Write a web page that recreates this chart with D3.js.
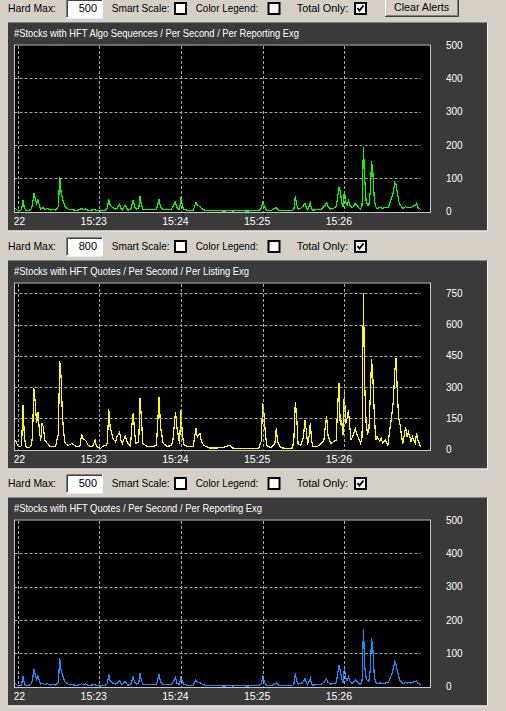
<!DOCTYPE html>
<html><head><meta charset="utf-8">
<script src="https://cdn.jsdelivr.net/npm/d3@7"></script>
<style>
html,body{margin:0;padding:0;background:#d4d0c8;overflow:hidden}
text{font-family:"Liberation Sans",Arial,sans-serif}
</style>
</head><body><svg id="c" width="506" height="711"></svg>
<script>
// seconds after 15:22:00
const seconds = [-2,-1,0,2,3,4,5,6,7,9,10,11,12,13,14,15,16,17,18,19,20,22,24,26,28,30,31,32,33,34,35,37,40,43,46,47,48,50,52,55,57,58,61,63,65,66,67,68,70,72,73,75,76,77,79,81,83,84,85,86,87,89,90,91,92,95,99,102,104,105,107,110,113,114,116,117,119,120,121,122,125,129,131,132,134,135,137,141,146,151,156,158,163,168,173,177,179,180,181,182,183,186,189,190,191,193,197,202,203,204,205,206,208,210,211,212,213,214,215,216,217,220,223,225,226,227,228,230,232,234,235,236,237,238,239,240,241,242,243,244,245,246,248,249,251,252,253,254,255,256,257,258,259,260,261,262,263,264,266,267,268,270,272,273,275,276,277,278,279,280,281,282,283,285,286,287,289,290,292,293,294,296];
const algoReporting = [10,8,4,3,6,35,12,5,4,5,8,20,55,40,25,35,20,8,10,12,6,10,5,7,5,15,103,60,40,25,15,8,6,4,6,10,6,8,4,5,6,3,2,4,5,10,37,20,12,8,10,22,10,6,20,5,6,20,35,15,8,10,47,20,8,6,6,7,37,15,6,6,8,15,29,12,6,45,20,8,4,4,28,20,15,10,5,3,4,2,3,2,4,2,3,3,10,27,20,10,4,3,10,12,6,3,3,3,10,47,20,8,10,18,25,15,6,15,27,6,5,6,8,15,20,27,15,8,10,15,40,73,60,30,15,62,30,20,33,20,15,12,25,20,10,8,20,193,95,30,20,20,60,151,115,35,15,10,12,12,10,12,13,20,45,60,88,80,55,30,20,15,10,15,12,13,12,15,20,25,12,7];
const quotesListing = [46,38,22,14,20,214,70,14,12,12,20,60,294,230,126,182,100,40,126,110,45,30,15,14,16,78,425,349,158,78,30,20,30,15,18,74,54,45,20,14,45,15,6,18,20,35,193,110,54,38,62,83,45,30,66,30,18,120,178,80,30,38,246,150,30,16,15,20,254,110,30,16,20,38,182,110,30,190,78,25,14,14,102,60,78,40,20,8,8,10,22,8,6,6,6,6,40,222,174,78,20,10,30,102,40,10,6,8,60,230,158,30,20,60,142,94,25,60,126,40,14,14,30,46,110,161,70,30,38,46,198,318,117,142,70,278,126,150,190,110,46,62,102,78,46,30,62,754,302,126,78,94,254,434,334,174,46,62,40,58,33,46,22,78,174,238,374,440,250,150,117,62,30,110,62,86,38,62,30,78,46,14];
const quotesReporting = [10,8,4,3,5,32,10,5,4,5,8,18,53,38,22,32,18,8,9,10,6,9,5,6,5,13,85,50,35,22,13,8,6,4,6,9,6,8,4,5,6,3,2,4,5,9,37,18,11,8,10,17,9,6,16,5,6,18,29,13,8,9,41,18,8,6,6,7,37,14,6,6,8,13,27,11,6,33,16,8,4,4,20,15,12,9,5,3,4,2,3,2,4,2,3,3,9,29,18,9,4,3,9,12,6,3,3,3,10,40,18,8,9,15,25,14,6,14,25,6,5,6,8,13,18,23,13,8,9,12,35,65,50,25,12,55,27,18,30,18,12,10,20,16,8,6,18,173,60,25,18,15,50,145,110,30,12,10,11,11,9,11,12,18,40,55,75,65,45,28,18,14,9,13,11,12,11,13,15,17,10,7];

const panelTitles = [
  "#Stocks with HFT Algo Sequences / Per Second / Per Reporting Exg",
  "#Stocks with HFT Quotes / Per Second / Per Listing Exg",
  "#Stocks with HFT Quotes / Per Second / Per Reporting Exg"
];
const titleWidths = [285, 235, 248];
const hardMax = [500, 800, 500];
const yTicks = [[0,100,200,300,400,500],[0,150,300,450,600,750],[0,100,200,300,400,500]];
const timeTicks = [0,60,120,180,240];
const timeTickLabels = ["15:22","15:23","15:24","15:25","15:26"];
const seriesList = [algoReporting, quotesListing, quotesReporting];
const lineColors = ["#00ff00","#ffff00","#1a8cff"];
const panelTops = [22.5, 260.5, 497.5];

const svg = d3.select("#c");
const x = d3.scaleLinear().domain([-2.35, 303.4]).range([14.3, 430.7]);
const tEnd = d3.max(seconds);

function label(g, txt, xx, yy, w, opts={}) {
  const t = g.append("text").attr("x", xx).attr("y", yy).attr("dy", "0.35em")
    .attr("font-size", opts.size || 11).attr("fill", opts.fill || "#000").text(txt);
  if (w) t.attr("textLength", w).attr("lengthAdjust", "spacingAndGlyphs");
  if (opts.anchor) t.attr("text-anchor", opts.anchor);
  return t;
}
function checkbox(g, xx, yy, checked) {
  g.append("rect").attr("x", xx).attr("y", yy).attr("width", 11).attr("height", 11)
    .attr("fill", "#fff").attr("stroke", "#000").attr("stroke-width", 2);
  if (checked) g.append("path")
    .attr("d", `M${xx+2.5},${yy+5} L${xx+4.5},${yy+7.5} L${xx+8.5},${yy+2.5}`)
    .attr("fill", "none").attr("stroke", "#000").attr("stroke-width", 2);
}

panelTops.forEach((P, i) => {
  const g = svg.append("g");
  // controls row
  const cy = P - 14;
  label(g, "Hard Max:", 8, cy, 48);
  g.append("rect").attr("x", 66).attr("y", cy - 9.5).attr("width", 37).attr("height", 19).attr("fill", "#fff");
  g.append("path").attr("d", `M66.5,${cy+9.5} V${cy-9} H103`).attr("fill","none").attr("stroke","#808080");
  g.append("path").attr("d", `M67.5,${cy+8.5} V${cy-8} H102`).attr("fill","none").attr("stroke","#404040");
  g.append("path").attr("d", `M66,${cy+9.5} H102.5 V${cy-9.5}`).attr("fill","none").attr("stroke","#ffffff");
  label(g, String(hardMax[i]), 97, cy, null, {anchor: "end"});
  label(g, "Smart Scale:", 111.7, cy, 58);
  checkbox(g, 175, cy - 5.5, false);
  label(g, "Color Legend:", 195.7, cy, 62.5);
  checkbox(g, 268.5, cy - 5.5, false);
  label(g, "Total Only:", 296.7, cy, 51.6);
  checkbox(g, 355, cy - 5.5, true);
  if (i === 0) {
    g.append("rect").attr("x", 385).attr("y", -3).attr("width", 73).attr("height", 20).attr("fill", "#d4d0c8");
    g.append("path").attr("d", "M385.5,17 V-3").attr("stroke", "#fff");
    g.append("path").attr("d", "M385,16.5 H458.5 V-3").attr("fill","none").attr("stroke", "#404040");
    g.append("path").attr("d", "M386,15.5 H457.5 V-3").attr("fill","none").attr("stroke", "#808080");
    label(g, "Clear Alerts", 394, 7.3, 55);
  }

  // panel
  g.append("rect").attr("x", 8).attr("y", P).attr("width", 480).attr("height", 208).attr("fill", "#3a3a3a");
  g.append("path").attr("d", `M8,${P+208.5} H487.5 V${P}`).attr("fill","none").attr("stroke","#f4f4f4");
  label(g, panelTitles[i], 14, P + 10, titleWidths[i], {fill: "#fff", size: 11.5});

  const top = P + 22.5, bottom = P + 189.2;
  const y = d3.scaleLinear().domain([0, hardMax[i]]).range([bottom, top]);

  g.append("rect").attr("x", 14).attr("y", P + 22).attr("width", 417).attr("height", 168.5).attr("fill", "#000");

  const cid = "clip" + i;
  g.append("clipPath").attr("id", cid).append("rect")
    .attr("x", 14.5).attr("y", P + 22.5).attr("width", 416).attr("height", 167.5);

  const data = seconds.map((t, k) => ({t, v: seriesList[i][k]}));
  g.append("path").datum(data).attr("clip-path", `url(#${cid})`)
    .attr("fill", "none").attr("stroke", lineColors[i]).attr("stroke-width", 1.2)
    .attr("shape-rendering", "crispEdges")
    .attr("d", d3.line().x(d => x(d.t)).y(d => y(d.v)));

  // gridlines (drawn over the data)
  const grid = g.append("g").attr("stroke", "#a8a8a8").attr("stroke-width", 1).attr("stroke-dasharray", "3,2");
  yTicks[i].filter(v => v > 0 && v < hardMax[i]).forEach(v => {
    const yy = Math.round(y(v)) + 0.5;
    grid.append("line").attr("x1", 14.5).attr("x2", x(tEnd)).attr("y1", yy).attr("y2", yy);
  });
  timeTicks.forEach(t => {
    const xx = Math.round(x(t)) + 0.5;
    grid.append("line").attr("x1", xx).attr("x2", xx).attr("y1", top + 1).attr("y2", bottom);
  });

  // border
  g.append("rect").attr("x", 14.5).attr("y", P + 22.5).attr("width", 416).attr("height", 167.5)
    .attr("fill", "none").attr("stroke", "#c8c8c8");

  // small axis ticks
  timeTicks.forEach(t => {
    const xx = Math.round(x(t)) + 2;
    g.append("line").attr("x1", xx).attr("x2", xx).attr("y1", P + 191).attr("y2", P + 193).attr("stroke", "#000");
  });

  // y labels
  yTicks[i].forEach(v => label(g, String(v), 446, y(v), null, {fill: "#fff", size: 10}));

  // x labels, clipped at plot left
  const lid = "lclip" + i;
  g.append("clipPath").attr("id", lid).append("rect")
    .attr("x", 14.3).attr("y", P + 190).attr("width", 430).attr("height", 18);
  const lg = g.append("g").attr("clip-path", `url(#${lid})`);
  timeTicks.forEach((t, k) => label(lg, timeTickLabels[k], x(t) - 5.5, P + 199, null, {fill: "#fff", size: 10.5, anchor: "middle"}));
});
</script>
</body></html>
